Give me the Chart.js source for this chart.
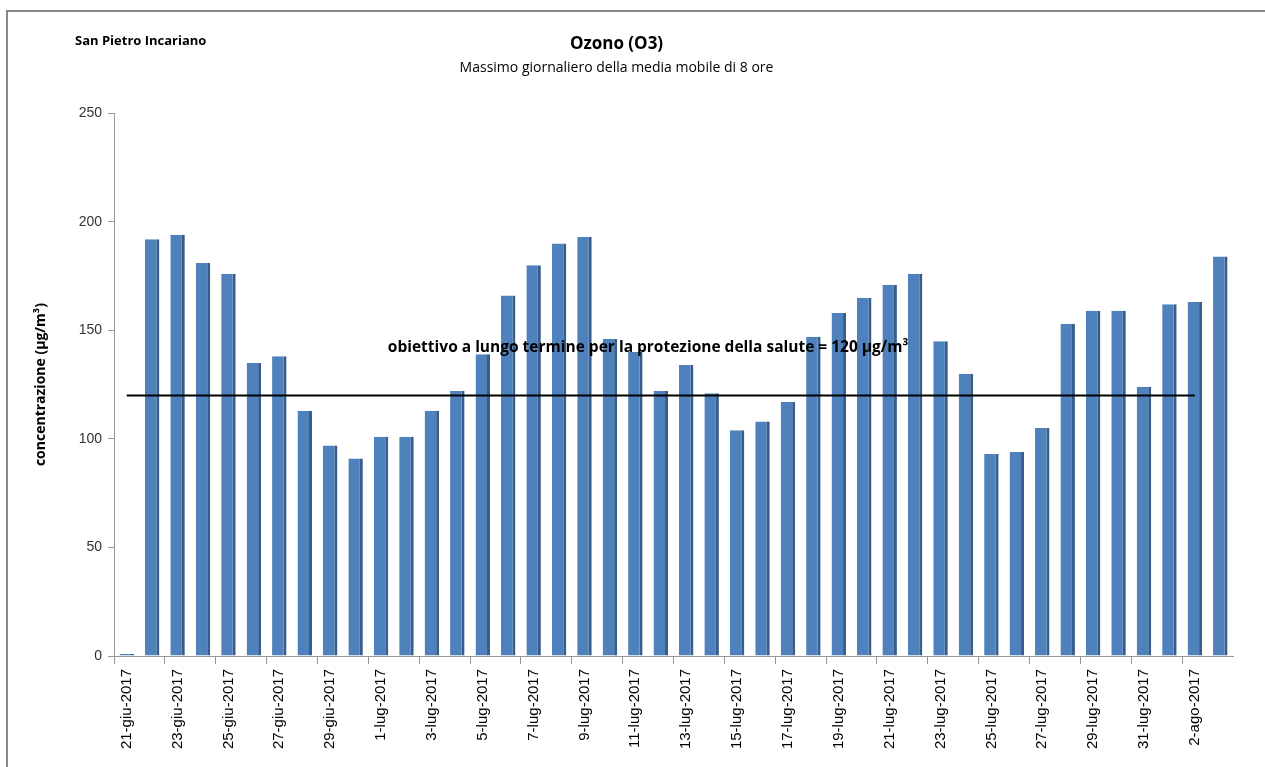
<!DOCTYPE html>
<html>
<head>
<meta charset="utf-8">
<script src="https://cdn.jsdelivr.net/npm/chart.js@4"></script>
<style>
  body { margin: 0; background: #fff; }
  .wrap { position: relative; width: 1265px; height: 767px; }
  .frame { position: absolute; left: 6px; top: 10px; right: -4px; bottom: -4px; border: 2px solid #888; pointer-events: none; }
  .station { position: absolute; left: 75px; top: 31px; font: bold 13px "Open Sans", sans-serif; color: #000; }
</style>
</head>
<body>
<div class="wrap">
  <canvas id="chart" width="1265" height="767"></canvas>
  <div class="frame"></div>
  <div class="station">San Pietro Incariano</div>
</div>
<script>
const days = [
  "21-giu-2017", "22-giu-2017", "23-giu-2017", "24-giu-2017", "25-giu-2017", "26-giu-2017",
  "27-giu-2017", "28-giu-2017", "29-giu-2017", "30-giu-2017",
  "1-lug-2017", "2-lug-2017", "3-lug-2017", "4-lug-2017", "5-lug-2017", "6-lug-2017",
  "7-lug-2017", "8-lug-2017", "9-lug-2017", "10-lug-2017", "11-lug-2017", "12-lug-2017",
  "13-lug-2017", "14-lug-2017", "15-lug-2017", "16-lug-2017", "17-lug-2017", "18-lug-2017",
  "19-lug-2017", "20-lug-2017", "21-lug-2017", "22-lug-2017", "23-lug-2017", "24-lug-2017",
  "25-lug-2017", "26-lug-2017", "27-lug-2017", "28-lug-2017", "29-lug-2017", "30-lug-2017",
  "31-lug-2017", "1-ago-2017", "2-ago-2017", "3-ago-2017"
];

// massimo giornaliero media mobile 8 ore (ug/m3)
const ozone = [
  0, 192, 194, 181, 176, 135, 138, 113, 97, 91,
  101, 101, 113, 122, 139, 166, 180, 190, 193, 146,
  140, 122, 134, 121, 104, 108, 117, 147, 158, 165,
  171, 176, 145, 130, 93, 94, 105, 153, 159, 159,
  124, 162, 163, 184
];

const target = 120;
const targetLine = days.map((d, i) => (i < days.length - 1 ? target : null));

const yTicks = [0, 50, 100, 150, 200, 250];

const noteText = "obiettivo a lungo termine per la protezione della salute = 120 \u00b5g/m\u00b3";

// scritta sopra la linea obiettivo
const notePlugin = {
  id: "note",
  afterDatasetsDraw(chart) {
    const { ctx, scales } = chart;
    const x = (scales.x.getPixelForValue(10) + scales.x.getPixelForValue(31)) / 2;
    const y = scales.y.getPixelForValue(142);
    ctx.save();
    ctx.font = 'bold 15.5px "Open Sans", sans-serif';
    ctx.fillStyle = "#000";
    ctx.textAlign = "center";
    ctx.textBaseline = "middle";
    ctx.fillText(noteText, x, y);
    ctx.restore();
  }
};

new Chart(document.getElementById("chart"), {
  data: {
    labels: days,
    datasets: [
      {
        type: "line",
        data: targetLine,
        borderColor: "#000",
        borderWidth: 2,
        pointRadius: 0,
        order: 0
      },
      {
        type: "bar",
        data: ozone,
        backgroundColor: "#4F81BD",
        borderColor: "#385D8A",
        borderWidth: { left: 0, top: 0, bottom: 0, right: 3 },
        borderSkipped: false,
        barPercentage: 0.6,
        categoryPercentage: 0.95,
        minBarLength: 2,
        order: 1
      }
    ]
  },
  options: {
    responsive: false,
    animation: false,
    layout: { padding: { top: 34, right: 32, left: 0, bottom: 0 } },
    plugins: {
      legend: { display: false },
      tooltip: { enabled: false },
      title: {
        display: true,
        text: "Ozono (O3)",
        color: "#000",
        font: { family: "Open Sans", size: 17, weight: "bold" },
        padding: { top: 0, bottom: 0 }
      },
      subtitle: {
        display: true,
        text: "Massimo giornaliero della media mobile di 8 ore",
        color: "#000",
        font: { family: "Open Sans", size: 14 },
        padding: { top: 5, bottom: 37 }
      }
    },
    scales: {
      x: {
        grid: {
          offset: true,
          drawOnChartArea: false,
          tickLength: 8,
          tickColor: (c) => (c.index % 2 === 0 ? "#999" : "rgba(0,0,0,0)")
        },
        border: { color: "#999", width: 1 },
        ticks: {
          autoSkip: false,
          maxRotation: 90,
          minRotation: 90,
          padding: 5,
          color: "#000",
          font: { family: "Liberation Sans", size: 15 },
          callback: function (v, i) { return i % 2 === 0 ? days[i] : ""; }
        },
        afterFit: (s) => { s.height = 111; }
      },
      y: {
        min: 0,
        max: 250,
        afterBuildTicks: (s) => { s.ticks = yTicks.map((v) => ({ value: v })); },
        grid: { drawOnChartArea: false, tickLength: 6, tickColor: "#999" },
        border: { color: "#999", width: 1 },
        ticks: {
          color: "#333",
          padding: 6,
          font: { family: "Liberation Sans", size: 14 }
        },
        title: {
          display: true,
          text: "concentrazione (\u00b5g/m\u00b3)",
          color: "#000",
          font: { family: "Open Sans", size: 14, weight: "bold" },
          padding: { top: 33, bottom: 0 }
        },
        afterFit: (s) => { s.width = 114; }
      }
    }
  },
  plugins: [notePlugin]
});
</script>
</body>
</html>
